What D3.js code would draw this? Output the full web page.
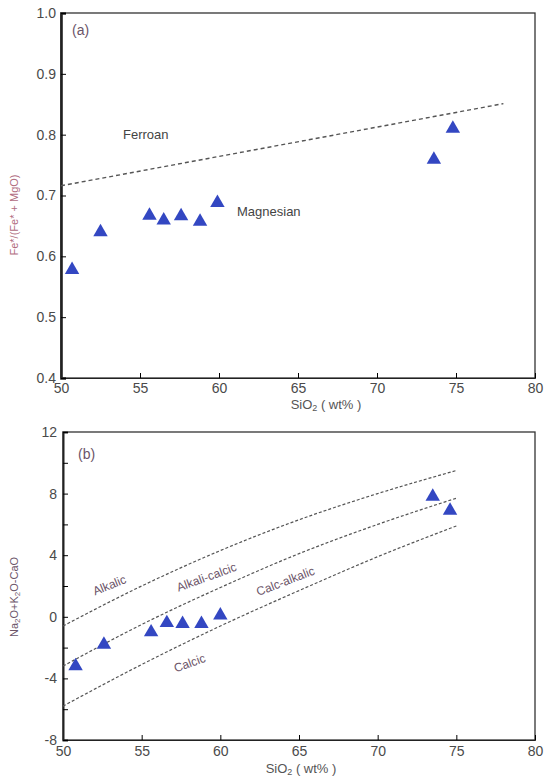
<!DOCTYPE html>
<html>
<head>
<meta charset="utf-8">
<script src="https://cdn.jsdelivr.net/npm/d3@7"></script>
<style>
body { margin: 0; background: #fff; }
text { font-family: "Liberation Sans", Arial, sans-serif; }
</style>
</head>
<body>
<div id="chart"></div>
<script>
var width = 544;
var height = 781;

// panel (a) samples: SiO2 vs FeO*/(FeO*+MgO)
var silicaA = [50.7, 52.5, 55.6, 56.5, 57.6, 58.8, 59.9, 73.6, 74.8];
var ferroA = [0.578, 0.640, 0.667, 0.659, 0.666, 0.657, 0.688, 0.759, 0.810];

// ferroan / magnesian divide
var divideX = [50, 78];
var divideY = [0.716, 0.851];

// panel (b) samples: SiO2 vs Na2O+K2O-CaO
var silicaB = [50.8, 52.6, 55.6, 56.6, 57.6, 58.8, 60.0, 73.5, 74.6];
var maliB = [-3.2, -1.8, -1.0, -0.4, -0.45, -0.45, 0.1, 7.8, 6.9];

// MALI boundaries
var boundX = [50, 55, 60, 65, 70, 75];
var alkalicLine = [-0.6, 2.0, 4.3, 6.3, 8.0, 9.5];
var alkaliCalcicLine = [-3.2, -0.5, 1.9, 4.1, 6.0, 7.7];
var calcAlkalicLine = [-5.8, -3.1, -0.6, 1.7, 3.9, 5.9];

var xTicks = [50, 55, 60, 65, 70, 75, 80];
var yTicksA = [0.4, 0.5, 0.6, 0.7, 0.8, 0.9, 1.0];
var yTicksB = [-8, -4, 0, 4, 8, 12];
var yMinorB = [-8, -6, -4, -2, 0, 2, 4, 6, 8, 10, 12];

var svg = d3.select("#chart").append("svg")
    .attr("width", width)
    .attr("height", height);

var labelColor = "#6b5468";
var triColor = "#3347c2";
var tri = d3.symbol().type(d3.symbolTriangle).size(90);

/* ---------- panel (a) ---------- */
var xA = d3.scaleLinear().domain([50, 80]).range([61, 535]);
var yA = d3.scaleLinear().domain([0.4, 1.0]).range([378, 13]);

svg.append("rect")
    .attr("x", xA(50)).attr("y", yA(1.0))
    .attr("width", xA(80) - xA(50)).attr("height", yA(0.4) - yA(1.0))
    .attr("fill", "none").attr("stroke", "#333").attr("stroke-width", 1.3);

var axA = svg.append("g").attr("transform", "translate(0," + yA(0.4) + ")")
    .call(d3.axisTop(xA).tickValues(xTicks).tickSize(5).tickFormat(d3.format("d")));
axA.selectAll("text").attr("y", 10).attr("dy", "0.35em");

var ayA = svg.append("g").attr("transform", "translate(" + xA(50) + ",0)")
    .call(d3.axisRight(yA).tickValues(yTicksA).tickSize(5).tickFormat(d3.format(".1f")));
ayA.selectAll("text").attr("x", -5).attr("text-anchor", "end");
ayA.select(".domain").attr("stroke-width", 2.6);

svg.selectAll(".tick text").attr("font-size", 14).attr("fill", "#4a4a4a");
svg.selectAll(".domain").attr("stroke", "#222");

svg.append("path")
    .datum(d3.zip(divideX, divideY))
    .attr("d", d3.line().x(function (d) { return xA(d[0]); }).y(function (d) { return yA(d[1]); }))
    .attr("fill", "none").attr("stroke", "#555").attr("stroke-width", 1.4)
    .attr("stroke-dasharray", "4,3");

svg.append("g").selectAll("path")
    .data(d3.zip(silicaA, ferroA))
    .enter().append("path")
    .attr("d", tri)
    .attr("transform", function (d) { return "translate(" + xA(d[0]) + "," + yA(d[1]) + ")"; })
    .attr("fill", triColor);

svg.append("text").attr("x", 72).attr("y", 35).attr("font-size", 14).attr("fill", labelColor).text("(a)");
svg.append("text").attr("x", 123).attr("y", 139).attr("font-size", 13).attr("fill", "#444").text("Ferroan");
svg.append("text").attr("x", 237).attr("y", 216).attr("font-size", 13).attr("fill", "#444").text("Magnesian");

svg.append("text")
    .attr("transform", "translate(18,215) rotate(-90)")
    .attr("text-anchor", "middle").attr("font-size", 11).attr("fill", "#b06b7e")
    .text("Fe*/(Fe* + MgO)");

svg.append("text").attr("x", 326).attr("y", 409).attr("text-anchor", "middle")
    .attr("font-size", 13).attr("fill", "#555")
    .html("SiO<tspan font-size='9' dy='2'>2</tspan><tspan dy='-2'> ( wt% )</tspan>");

/* ---------- panel (b) ---------- */
var xB = d3.scaleLinear().domain([50, 80]).range([63, 535]);
var yB = d3.scaleLinear().domain([-8, 12]).range([740, 432]);

svg.append("rect")
    .attr("x", xB(50)).attr("y", yB(12))
    .attr("width", xB(80) - xB(50)).attr("height", yB(-8) - yB(12))
    .attr("fill", "none").attr("stroke", "#333").attr("stroke-width", 1.3);

var gB = svg.append("g");
var axB = gB.append("g").attr("transform", "translate(0," + yB(-8) + ")")
    .call(d3.axisTop(xB).tickValues(xTicks).tickSize(5).tickFormat(d3.format("d")));
axB.selectAll("text").attr("y", 11).attr("dy", "0.35em");

var ayB = gB.append("g").attr("transform", "translate(" + xB(50) + ",0)")
    .call(d3.axisRight(yB).tickValues(yMinorB).tickSize(5)
        .tickFormat(function (d) { return yTicksB.indexOf(d) >= 0 ? d : ""; }));
ayB.selectAll("text").attr("x", -6).attr("text-anchor", "end");
ayB.select(".domain").attr("stroke-width", 2);

gB.selectAll(".tick text").attr("font-size", 14).attr("fill", "#4a4a4a");
gB.selectAll(".domain").attr("stroke", "#222");

var bLine = d3.line().curve(d3.curveMonotoneX)
    .x(function (d) { return xB(d[0]); }).y(function (d) { return yB(d[1]); });

[alkalicLine, alkaliCalcicLine, calcAlkalicLine].forEach(function (ys) {
    svg.append("path")
        .datum(d3.zip(boundX, ys))
        .attr("d", bLine)
        .attr("fill", "none").attr("stroke", "#555").attr("stroke-width", 1.2)
        .attr("stroke-dasharray", "3,2");
});

svg.append("g").selectAll("path")
    .data(d3.zip(silicaB, maliB))
    .enter().append("path")
    .attr("d", tri)
    .attr("transform", function (d) { return "translate(" + xB(d[0]) + "," + yB(d[1]) + ")"; })
    .attr("fill", triColor);

svg.append("text").attr("x", 78).attr("y", 459).attr("font-size", 14).attr("fill", labelColor).text("(b)");

var fieldLabels = [
    { t: "Alkalic", x: 111, y: 589, r: -22 },
    { t: "Alkali-calcic", x: 208, y: 581, r: -20 },
    { t: "Calc-alkalic", x: 287, y: 585, r: -21 },
    { t: "Calcic", x: 191, y: 667, r: -20 }
];
svg.append("g").selectAll("text")
    .data(fieldLabels)
    .enter().append("text")
    .attr("transform", function (d) { return "translate(" + d.x + "," + d.y + ") rotate(" + d.r + ")"; })
    .attr("text-anchor", "middle").attr("font-size", 12).attr("fill", labelColor)
    .text(function (d) { return d.t; });

svg.append("text")
    .attr("transform", "translate(18,597) rotate(-90)")
    .attr("text-anchor", "middle").attr("font-size", 11).attr("fill", labelColor)
    .html("Na<tspan font-size='8' dy='2'>2</tspan><tspan dy='-2'>O+K</tspan><tspan font-size='8' dy='2'>2</tspan><tspan dy='-2'>O-CaO</tspan>");

svg.append("text").attr("x", 301).attr("y", 773).attr("text-anchor", "middle")
    .attr("font-size", 13).attr("fill", "#555")
    .html("SiO<tspan font-size='9' dy='2'>2</tspan><tspan dy='-2'> ( wt% )</tspan>");
</script>
</body>
</html>
